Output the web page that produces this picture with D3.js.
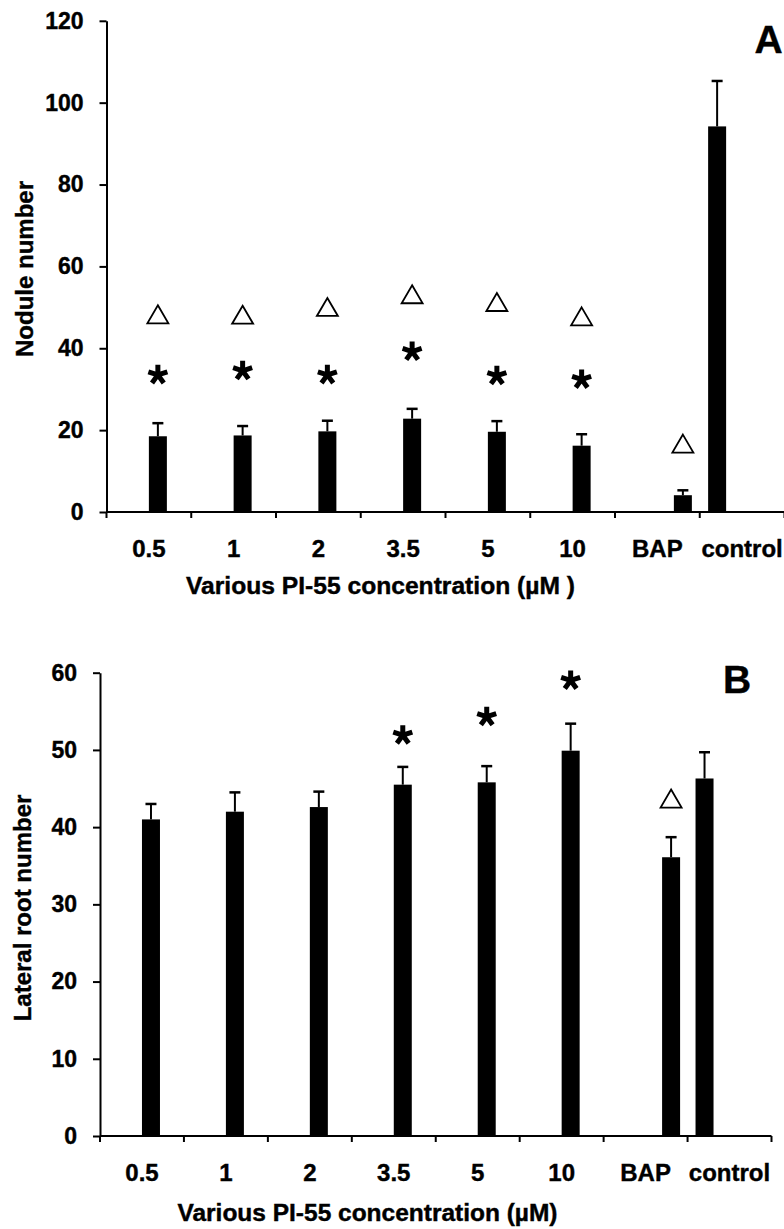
<!DOCTYPE html>
<html><head><meta charset="utf-8">
<script src="https://cdn.jsdelivr.net/npm/d3@7"></script>
<style>
body{margin:0;background:#fff}
svg{display:block}
text{font-family:"Liberation Sans",Arial,sans-serif;font-weight:bold;fill:#000;stroke:#000;stroke-width:0.4px}
</style>
</head><body>
<svg id="c" width="784" height="1229"></svg>
<script>
// ---------- data ----------
const categories = ["0.5","1","2","3.5","5","10","BAP","control"];
const noduleMean = [18.5,18.7,19.7,22.8,19.6,16.2,4.1,94.2];
const noduleErr  = [3.2,2.3,2.6,2.4,2.6,2.8,1.2,11.1];
const noduleStar = [33.5,34.5,33.5,39.2,33.3,32.4,null,null];   // asterisk centre (value units)
const noduleTri  = [48.3,48.2,50.1,53.2,51.3,47.8,16.7,null];   // triangle centre (value units)
const noduleTicks = [0,20,40,60,80,100,120];

const rootMean = [41.0,42.0,42.6,45.5,45.8,49.9,36.1,46.3];
const rootErr  = [2.0,2.5,2.0,2.3,2.1,3.5,2.6,3.4];
const rootStar = [null,null,null,51.9,54.3,59.0,null,null];
const rootTri  = [null,null,null,null,null,null,43.7,null];
const rootTicks = [0,10,20,30,40,50,60];

// ---------- layout ----------
const barW = 18;
const barShift = [0,0,0,0,0,0,16.5,-34]; // px offset of bar left edge from band centre

const panels = [
  {mean:noduleMean, err:noduleErr, star:noduleStar, tri:noduleTri, ticks:noduleTicks,
   ymax:120, y0:512, y1:20.8, x0:106.5, x1:784.5,
   ylabel:"Nodule number", ylabX:33, ylabY:269,
   xlabel:"Various PI-55 concentration (\u00B5M )", xlabX:380.5, xlabY:593.5, xlabLen:389,
   tickLabY:557, letter:"A", letX:768.5, letY:53},
  {mean:rootMean, err:rootErr, star:rootStar, tri:rootTri, ticks:rootTicks,
   ymax:60, y0:1136, y1:672.7, x0:100, x1:771.5,
   ylabel:"Lateral root number", ylabX:31, ylabY:908,
   xlabel:"Various PI-55 concentration (\u00B5M)", xlabX:367.5, xlabY:1220.5, xlabLen:380,
   tickLabY:1181, letter:"B", letX:737, letY:693}
];

const svg = d3.select("#c");

function starPath(r){
  let d="";
  for(let k=0;k<5;k++){
    const a = -Math.PI/2 + k*2*Math.PI/5;
    d += `M0,0L${(r*Math.cos(a)).toFixed(2)},${(r*Math.sin(a)).toFixed(2)}`;
  }
  return d;
}
const triPath = "M0,-9L10.5,9L-10.5,9Z";

panels.forEach(p=>{
  const g = svg.append("g");
  const y = d3.scaleLinear().domain([0,p.ymax]).range([p.y0,p.y1]);
  const x = d3.scaleBand().domain(categories).range([p.x0,p.x1]).padding(0);
  const bw = x.bandwidth();
  const cx = (c,i)=> x(c)+bw/2+barShift[i]+barW/2;

  // y axis
  const ya = d3.axisLeft(y).tickValues(p.ticks).tickSize(7).tickSizeOuter(0).tickPadding(16);
  const yg = g.append("g").attr("transform",`translate(${p.x0},0)`).call(ya);
  yg.select(".domain").attr("stroke","#000").attr("stroke-width",2);
  yg.selectAll(".tick line").attr("stroke","#000").attr("stroke-width",2);
  yg.selectAll(".tick text").attr("font-size",23).attr("font-family",'"Liberation Sans",Arial,sans-serif').attr("font-weight","bold");

  // x axis
  g.append("line").attr("x1",p.x0).attr("x2",p.x1).attr("y1",p.y0).attr("y2",p.y0)
    .attr("stroke","#000").attr("stroke-width",2);
  const bounds = categories.map(c=>x(c)).concat([p.x1]);
  g.selectAll(".xt").data(bounds).join("line")
    .attr("x1",d=>d).attr("x2",d=>d).attr("y1",p.y0).attr("y2",p.y0+6)
    .attr("stroke","#000").attr("stroke-width",2);
  g.selectAll(".xl").data(categories).join("text")
    .attr("x",c=>x(c)+bw/2).attr("y",p.tickLabY).attr("text-anchor","middle")
    .attr("font-size",24).text(c=>c);

  // bars
  g.selectAll(".bar").data(p.mean).join("rect")
    .attr("x",(d,i)=>x(categories[i])+bw/2+barShift[i])
    .attr("width",barW)
    .attr("y",d=>y(d)).attr("height",d=>p.y0-y(d)).attr("fill","#000");

  // error bars (upper only)
  p.mean.forEach((m,i)=>{
    const c = cx(categories[i],i);
    const top = y(m+p.err[i]);
    g.append("line").attr("x1",c).attr("x2",c).attr("y1",y(m)).attr("y2",top)
      .attr("stroke","#000").attr("stroke-width",2);
    g.append("line").attr("x1",c-5.5).attr("x2",c+5.5).attr("y1",top).attr("y2",top)
      .attr("stroke","#000").attr("stroke-width",2.5);
  });

  // asterisks
  p.star.forEach((v,i)=>{
    if(v==null) return;
    g.append("path").attr("d",starPath(10))
      .attr("transform",`translate(${cx(categories[i],i)},${y(v)})`)
      .attr("stroke","#000").attr("stroke-width",5).attr("fill","none");
  });
  // triangles
  p.tri.forEach((v,i)=>{
    if(v==null) return;
    g.append("path").attr("d",triPath)
      .attr("transform",`translate(${cx(categories[i],i)},${y(v)})`)
      .attr("stroke","#000").attr("stroke-width",1.8).attr("fill","none").attr("stroke-linejoin","miter");
  });

  // titles
  g.append("text").attr("transform",`translate(${p.ylabX},${p.ylabY}) rotate(-90)`)
    .attr("text-anchor","middle").attr("font-size",24).text(p.ylabel);
  g.append("text").attr("x",p.xlabX).attr("y",p.xlabY).attr("text-anchor","middle")
    .attr("font-size",23).attr("textLength",p.xlabLen).attr("lengthAdjust","spacingAndGlyphs")
    .text(p.xlabel);
  g.append("text").attr("x",p.letX).attr("y",p.letY).attr("text-anchor","middle")
    .attr("font-size",39).text(p.letter);
});
</script>
</body></html>
